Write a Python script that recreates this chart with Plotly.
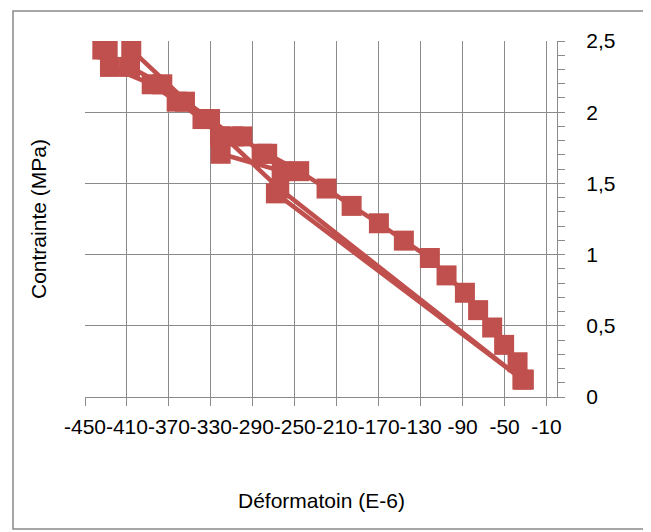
import plotly.graph_objects as go

# Strain (E-6) and stress (MPa), in test order
strain = [-31.6, -37.6, -50.4, -61.8, -75.2, -87.8, -105.3, -121.2, -146.0, -169.8,
          -195.8, -219.7, -245.8, -276.3, -281.6, -300.0, -308.6, -330.8, -354.7, -376.3,
          -407.1, -405.9,
          -264.8, -33.0,
          -268.0, -262.5, -320.7, -321.3, -338.0, -362.6, -386.4, -426.2, -428.4, -433.5]
stress = [0.122, 0.244, 0.366, 0.488, 0.610, 0.732, 0.854, 0.976, 1.098, 1.220,
          1.342, 1.464, 1.586, 1.708, 1.708, 1.830, 1.830, 1.952, 2.074, 2.196,
          2.318, 2.440,
          1.464, 0.122,
          1.430, 1.586, 1.708, 1.830, 1.952, 2.074, 2.196, 2.318, 2.440, 2.440]

x_ticks = [-450, -410, -370, -330, -290, -250, -210, -170, -130, -90, -50, -10]
x_tick_text = ["-450", "-410", "-370", "-330", "-290", "-250", "-210", "-170", "-130", "-90", "-50", "-10"]
y_ticks = [0, 0.5, 1, 1.5, 2, 2.5]
y_tick_text = ["0", "0,5", "1", "1,5", "2", "2,5"]

RED = "#C0504D"
GRID = "#8A8A8A"
FONT = "Liberation Sans"
FS = 21

# page body has an 8px margin: work in page pixels and subtract it
OFF = 8
W, H = 651 - OFF, 532 - OFF
plot_left, plot_right, plot_top, plot_bottom = 85, 557, 41, 397
L = plot_left - OFF
T = plot_top - OFF
R = W - (plot_right - OFF)
B = H - (plot_bottom - OFF)
pw, ph = W - L - R, H - T - B

def px2paper_x(px):
    return (px - OFF - L) / pw

def px2paper_y(py):
    return 1 - (py - OFF - T) / ph

fig = go.Figure()
fig.add_trace(go.Scatter(
    x=strain, y=stress, mode="lines+markers",
    line=dict(color=RED, width=4.5),
    marker=dict(symbol="square", size=20, color=RED, line=dict(width=0)),
    showlegend=False,
))

fig.update_layout(
    width=W, height=H, autosize=False,
    margin=dict(l=L, r=R, t=T, b=B, pad=0),
    paper_bgcolor="white", plot_bgcolor="white",
    font=dict(family=FONT, size=FS, color="black"),
    xaxis=dict(
        range=[-450, 0], tickmode="array", tickvals=x_ticks, ticktext=x_tick_text,
        tickangle=0, automargin=False,
        showgrid=True, gridcolor=GRID, gridwidth=1.3,
        showline=True, linecolor=GRID, linewidth=1.3,
        ticks="outside", ticklen=8, tickcolor=GRID, tickwidth=1.3,
        ticklabelstandoff=3, zeroline=False, fixedrange=True,
    ),
    yaxis=dict(
        range=[0, 2.5], side="right", tickmode="array", tickvals=y_ticks, ticktext=y_tick_text,
        automargin=False,
        showgrid=True, gridcolor=GRID, gridwidth=1.3,
        showline=True, linecolor=GRID, linewidth=1.3,
        ticks="outside", ticklen=7, tickcolor=GRID, tickwidth=1.3,
        minor=dict(dtick=0.1, tick0=0, ticks="outside", ticklen=7, tickcolor=GRID, tickwidth=1.3, showgrid=False),
        ticklabelstandoff=17, zeroline=False, fixedrange=True,
    ),
    shapes=[dict(type="rect", xref="paper", yref="paper",
                 x0=px2paper_x(13), x1=px2paper_x(648), y0=px2paper_y(529), y1=px2paper_y(11),
                 line=dict(color="#898989", width=1.5), fillcolor="rgba(0,0,0,0)", layer="below")],
    annotations=[
        dict(text="Déformatoin (E-6)", xref="paper", yref="paper",
             x=0.5, y=px2paper_y(500), xanchor="center", yanchor="middle",
             showarrow=False, font=dict(family=FONT, size=FS)),
        dict(text="Contrainte (MPa)", xref="paper", yref="paper",
             x=px2paper_x(38), y=0.5, xanchor="center", yanchor="middle", textangle=-90,
             showarrow=False, font=dict(family=FONT, size=FS)),
    ],
)

fig.write_html("out.html")
